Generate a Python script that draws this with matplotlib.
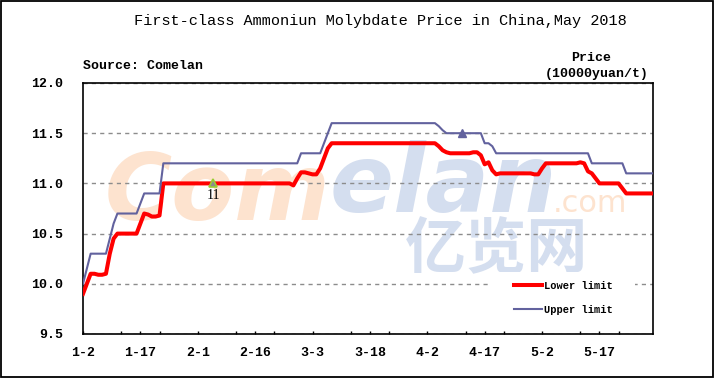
import numpy as np
import matplotlib
matplotlib.use('Agg')
import matplotlib.pyplot as plt
from matplotlib.patches import Rectangle

# daily prices, 10000 yuan/t, from 1-2 to 5-31 (one row = 15 days)
upper_limit = [
    10.0, 10.15, 10.3, 10.3, 10.3, 10.3, 10.3, 10.45, 10.6, 10.7, 10.7, 10.7, 10.7, 10.7, 10.7,
    10.8, 10.9, 10.9, 10.9, 10.9, 10.9, 11.2, 11.2, 11.2, 11.2, 11.2, 11.2, 11.2, 11.2, 11.2,
    11.2, 11.2, 11.2, 11.2, 11.2, 11.2, 11.2, 11.2, 11.2, 11.2, 11.2, 11.2, 11.2, 11.2, 11.2,
    11.2, 11.2, 11.2, 11.2, 11.2, 11.2, 11.2, 11.2, 11.2, 11.2, 11.2, 11.2, 11.3, 11.3, 11.3,
    11.3, 11.3, 11.3, 11.4, 11.5, 11.6, 11.6, 11.6, 11.6, 11.6, 11.6, 11.6, 11.6, 11.6, 11.6,
    11.6, 11.6, 11.6, 11.6, 11.6, 11.6, 11.6, 11.6, 11.6, 11.6, 11.6, 11.6, 11.6, 11.6, 11.6,
    11.6, 11.6, 11.6, 11.57, 11.53, 11.5, 11.5, 11.5, 11.5, 11.5, 11.5, 11.5, 11.5, 11.5, 11.5,
    11.4, 11.4, 11.37, 11.3, 11.3, 11.3, 11.3, 11.3, 11.3, 11.3, 11.3, 11.3, 11.3, 11.3, 11.3,
    11.3, 11.3, 11.3, 11.3, 11.3, 11.3, 11.3, 11.3, 11.3, 11.3, 11.3, 11.3, 11.3, 11.2, 11.2,
    11.2, 11.2, 11.2, 11.2, 11.2, 11.2, 11.2, 11.1, 11.1, 11.1, 11.1, 11.1, 11.1, 11.1, 11.1,
]
lower_limit = [
    9.9, 10.0, 10.1, 10.1, 10.09, 10.09, 10.1, 10.3, 10.45, 10.5, 10.5, 10.5, 10.5, 10.5, 10.5,
    10.6, 10.7, 10.69, 10.67, 10.67, 10.68, 11.0, 11.0, 11.0, 11.0, 11.0, 11.0, 11.0, 11.0, 11.0,
    11.0, 11.0, 11.0, 11.0, 11.0, 11.0, 11.0, 11.0, 11.0, 11.0, 11.0, 11.0, 11.0, 11.0, 11.0,
    11.0, 11.0, 11.0, 11.0, 11.0, 11.0, 11.0, 11.0, 11.0, 11.0, 10.98, 11.05, 11.11, 11.11, 11.1,
    11.09, 11.09, 11.15, 11.25, 11.35, 11.4, 11.4, 11.4, 11.4, 11.4, 11.4, 11.4, 11.4, 11.4, 11.4,
    11.4, 11.4, 11.4, 11.4, 11.4, 11.4, 11.4, 11.4, 11.4, 11.4, 11.4, 11.4, 11.4, 11.4, 11.4,
    11.4, 11.4, 11.4, 11.37, 11.33, 11.31, 11.3, 11.3, 11.3, 11.3, 11.3, 11.3, 11.31, 11.31, 11.28,
    11.19, 11.21, 11.13, 11.09, 11.1, 11.1, 11.1, 11.1, 11.1, 11.1, 11.1, 11.1, 11.1, 11.09, 11.09,
    11.15, 11.2, 11.2, 11.2, 11.2, 11.2, 11.2, 11.2, 11.2, 11.2, 11.21, 11.2, 11.12, 11.1, 11.05,
    11.0, 11.0, 11.0, 11.0, 11.0, 11.0, 10.95, 10.9, 10.9, 10.9, 10.9, 10.9, 10.9, 10.9, 10.9,
]
date_labels = ['1-2', '1-17', '2-1', '2-16', '3-3', '3-18', '4-2', '4-17', '5-2', '5-17']
label_step = 15
# highlighted points (day index, series)
lower_mark_day = 34
upper_mark_day = 99

red = '#ff0000'
blue = '#62629e'
mono = 'Liberation Mono'

W, H = 716, 378
fig = plt.figure(figsize=(W / 100, H / 100), dpi=100)
ax = fig.add_axes([83 / W, 44 / H, 570 / W, 251 / H])

# watermark
wm_orange = '#fde3cf'
wm_blue = '#d4deef'
ax.text(105 / W, 158 / H, 'Com', transform=fig.transFigure, fontsize=66, fontweight='bold',
        style='italic', color=wm_orange, zorder=0.1, family='DejaVu Sans')
ax.text(330 / W, 166 / H, 'elan', transform=fig.transFigure, fontsize=68, fontweight='bold',
        style='italic', color=wm_blue, zorder=0.1, family='DejaVu Sans')
ax.text(553 / W, 166 / H, '.com', transform=fig.transFigure, fontsize=22,
        color=wm_orange, zorder=0.1, family='DejaVu Sans')
ax.text(497 / W, 128 / H, '亿览网', transform=fig.transFigure, fontsize=44, fontweight='bold',
        color=wm_blue, zorder=0.1, ha='center', va='center', family='Noto Sans CJK SC')

days = np.arange(len(lower_limit))
ax.plot(days, lower_limit, color=red, lw=2.9, label='Lower limit', zorder=3, solid_joinstyle='round')
ax.plot(days, upper_limit, color=blue, lw=1.5, label='Upper limit', zorder=3)

ax.plot(lower_mark_day, lower_limit[lower_mark_day], marker='^', ms=6, mfc='#8c8c8c',
        mec='#9acd32', mew=1.2, zorder=4)
ax.annotate('%g' % lower_limit[lower_mark_day], (lower_mark_day, lower_limit[lower_mark_day]),
            xytext=(0, -12), textcoords='offset pixels', ha='center', va='center',
            fontsize=10, family='Liberation Serif', zorder=4)
ax.plot(upper_mark_day, upper_limit[upper_mark_day], marker='^', ms=5.5, color=blue, zorder=4)

ax.set_xlim(0, len(lower_limit) - 1)
ax.set_ylim(9.5, 12.0)
ax.set_yticks(np.arange(9.5, 12.01, 0.5))
ax.set_yticklabels(['%.1f' % t for t in np.arange(9.5, 12.01, 0.5)])
ax.set_xticks(np.arange(0, len(date_labels) * label_step, label_step))
ax.set_xticklabels(date_labels)
ax.set_xticks([10, 20, 40, 50, 70, 80, 100, 110, 130, 140], minor=True)
ax.tick_params(axis='x', which='both', direction='in', length=2.5, width=1, pad=9)
ax.tick_params(axis='y', length=0, pad=14)
for lab in ax.get_xticklabels() + ax.get_yticklabels():
    lab.set_family(mono)
    lab.set_fontweight('bold')
    lab.set_fontsize(9.5)

ax.grid(axis='y', color='#8c8c8c', ls=(0, (3, 3)), lw=1)
ax.set_axisbelow(True)
for s in ax.spines.values():
    s.set_linewidth(1.2)

# white area behind the legend
ax.add_patch(Rectangle((488 / W, (378 - 322) / H), (635 - 488) / W, 50 / H,
                       transform=fig.transFigure, facecolor='white', edgecolor='none', zorder=1))
leg = ax.legend(loc='center left', bbox_to_anchor=(514 / W, (378 - 298) / H),
                bbox_transform=fig.transFigure, frameon=False, borderaxespad=0, borderpad=0,
                handlelength=2.7, handletextpad=0.2, labelspacing=1.35,
                prop={'family': mono, 'weight': 'bold', 'size': 7.5})

fig.text(380 / W, 1 - 21 / H, 'First-class Ammoniun Molybdate Price in China,May 2018',
         ha='center', va='center', fontsize=11, family=mono)
fig.text(83 / W, 1 - 66 / H, 'Source: Comelan', ha='left', va='center', fontsize=9.5,
         family=mono, fontweight='bold')
fig.text(591 / W, 1 - 58 / H, 'Price', ha='center', va='center', fontsize=9.5,
         family=mono, fontweight='bold')
fig.text(597 / W, 1 - 74 / H, '(10000yuan/t)', ha='center', va='center', fontsize=9.5,
         family=mono, fontweight='bold')

fig.patches.append(Rectangle((0.7 / W, 1.5 / H), 712 / W, 375.5 / H, transform=fig.transFigure,
                             fill=False, edgecolor='black', lw=1.3))

fig.savefig('out.png', dpi=100)
